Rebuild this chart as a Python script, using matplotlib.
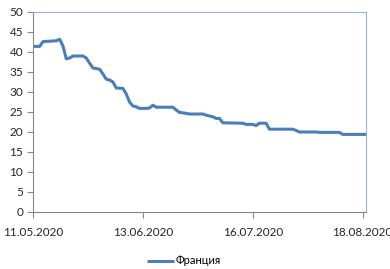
import numpy as np
import pandas as pd
import matplotlib
matplotlib.use('Agg')
import matplotlib.pyplot as plt
import matplotlib.dates as mdates

# key points of the series (days after 11.05.2020, value)
days = [0, 2, 3, 7, 8, 9, 10, 11, 12, 15, 16, 17, 18, 20, 21, 22, 23, 24, 25,
        27, 28, 29, 30, 31, 32, 34, 35, 36, 37, 42, 43, 44, 45, 47, 51, 52, 54,
        55, 56, 57, 63, 64, 66, 67, 68, 70, 71, 78, 79, 80, 85, 86, 92, 93, 100]
vals = [41.4, 41.4, 42.6, 42.8, 43.2, 41.5, 38.3, 38.5, 39.0, 39.0, 38.5, 37.2,
        36.0, 35.7, 34.5, 33.2, 33.0, 32.5, 31.0, 30.9, 29.5, 27.5, 26.5, 26.3,
        25.9, 25.9, 26.0, 26.7, 26.2, 26.2, 25.5, 24.9, 24.8, 24.5, 24.5, 24.2,
        23.8, 23.4, 23.4, 22.3, 22.2, 21.9, 21.9, 21.6, 22.2, 22.2, 20.7, 20.7,
        20.4, 20.0, 20.0, 19.9, 19.9, 19.4, 19.4]
series_name = 'Франция'
start = pd.Timestamp('2020-05-11')
tick_days = [0, 33, 66, 99]
yticks = [0, 5, 10, 15, 20, 25, 30, 35, 40, 45, 50]

dates = start + pd.to_timedelta(days, unit='D')
tick_dates = start + pd.to_timedelta(tick_days, unit='D')

plt.rcParams['font.family'] = ['Lato', 'DejaVu Sans']

fig = plt.figure(figsize=(3.9, 2.69), dpi=100)
ax = fig.add_axes([33 / 390, 1 - 212 / 269, 333 / 390, 200 / 269])

ax.plot(dates, vals, color='#4a7ebb', lw=2.2, label=series_name,
        solid_joinstyle='round', solid_capstyle='butt')

ax.set_xlim(dates[0], dates[-1])
ax.set_ylim(0, 50)
ax.set_yticks(yticks)
ax.set_xticks(tick_dates)
ax.xaxis.set_major_formatter(mdates.DateFormatter('%d.%m.%Y'))

for s in ['left', 'bottom']:
    ax.spines[s].set_color('#868686')
    ax.spines[s].set_linewidth(0.8)
for s in ['top', 'right']:
    ax.spines[s].set_color('#95b3d7')
    ax.spines[s].set_linewidth(0.8)

ax.tick_params(axis='both', colors='#868686', labelcolor='#262626',
               labelsize=8.5, length=4, width=0.8, direction='out')
ax.tick_params(axis='x', pad=7)
ax.tick_params(axis='y', pad=3)

fig.legend(loc='center', bbox_to_anchor=(184 / 390, 1 - 261 / 269),
           frameon=False, fontsize=8, handlelength=2.4, handletextpad=0.2,
           borderpad=0)

fig.savefig('out.png', dpi=100)
